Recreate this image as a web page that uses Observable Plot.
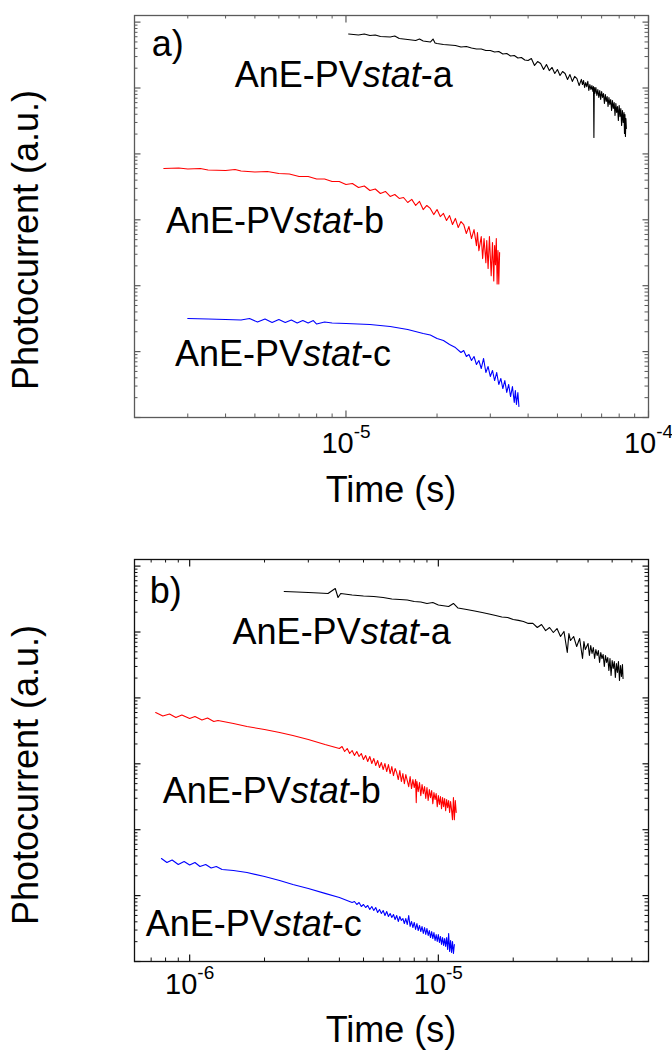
<!DOCTYPE html>
<html><head><meta charset="utf-8">
<script src="https://cdn.jsdelivr.net/npm/d3@7"></script>
<script src="https://cdn.jsdelivr.net/npm/@observablehq/plot@0.6"></script>
<style>
body{margin:0;background:#fff;}
#page{position:relative;width:672px;height:1053px;overflow:hidden;font-family:"Liberation Sans",Arial,sans-serif;background:#fff;}
.panel{position:absolute;left:0;}
.title{position:absolute;font-size:36px;line-height:36px;white-space:nowrap;text-align:center;width:400px;height:36px;color:#000;}
</style></head><body><div id="page"></div>
<script>
// ---- Panel a data: [time (s), photocurrent (a.u.)] ----
const aBlack = [[10.2e-6,6.6e5],[11e-6,6.37e5],[11.5e-6,6.6e5],[12e-6,6.27e5],[12.5e-6,6.37e5],[13e-6,6.05e5],[14e-6,5.95e5],[14.5e-6,6.16e5],[15e-6,5.64e5],[16e-6,5.45e5],[17e-6,5.26e5],[17.5e-6,5.54e5],[18e-6,5.17e5],[19e-6,4.99e5],[19.4e-6,5.54e5],[19.7e-6,4.82e5],[20e-6,4.74e5],[21e-6,4.57e5],[22e-6,4.49e5],[23e-6,4.42e5],[24e-6,4.19e5],[25e-6,4.27e5],[26e-6,4.05e5],[27e-6,3.91e5],[28e-6,3.91e5],[29e-6,3.71e5],[30e-6,3.71e5],[31e-6,3.52e5],[32e-6,3.58e5],[33e-6,3.28e5],[34e-6,3.34e5],[35e-6,3.06e5],[36e-6,3.11e5],[37e-6,2.85e5],[38e-6,2.90e5],[39e-6,2.66e5],
  [40e-6,2.62e5],[41e-6,2.80e5],[42e-6,2.20e5],[43e-6,2.52e5],[44e-6,2.36e5],[45e-6,1.91e5],[46e-6,2.27e5],[47e-6,1.84e5],[48e-6,2.05e5],[49e-6,1.66e5],[50e-6,1.91e5],[51e-6,1.55e5],[52e-6,1.78e5],[53e-6,1.66e5],[54e-6,1.35e5],[55e-6,1.60e5],[56e-6,1.26e5],[57e-6,1.50e5],[58e-6,1.39e5],[59e-6,1.09e5],[60e-6,1.35e5],[60.5e-6,1.13e5],[61e-6,1.30e5],[61.5e-6,1.02e5],[62e-6,1.21e5],[62.5e-6,1.05e5],[63e-6,1.26e5],[63.5e-6,9.17e4],[64e-6,1.13e5],[64.5e-6,9.49e4],[65e-6,1.09e5],[65.5e-6,8.85e4],[65.8e-6,1.05e5],[66e-6,1.77e4],[66.2e-6,1.02e5],[66.5e-6,8.25e4],[67e-6,1.02e5],[67.5e-6,7.70e4],[68e-6,9.49e4],[68.5e-6,7.18e4],[69e-6,9.17e4],[69.5e-6,6.69e4],[70e-6,8.85e4],[70.5e-6,7.18e4],[71e-6,8.25e4],[71.5e-6,5.82e4],[72e-6,7.97e4],[72.5e-6,6.24e4],[73e-6,7.43e4],[73.5e-6,5.24e4],[74e-6,7.18e4],[74.5e-6,5.62e4],[75e-6,6.69e4],[75.5e-6,4.56e4],[76e-6,6.46e4],[76.5e-6,4.89e4],[77e-6,6.02e4],[77.5e-6,3.83e4],[78e-6,5.82e4],[78.5e-6,4.25e4],[79e-6,5.24e4],[79.5e-6,3.21e4],[80e-6,5.42e4],[80.5e-6,3.70e4],[81e-6,4.89e4],[81.5e-6,2.70e4],[82e-6,4.56e4],[82.5e-6,3.00e4],[83e-6,4.25e4],[83.3e-6,2.04e4],[83.6e-6,3.96e4],[83.9e-6,1.84e4],[84.2e-6,3.45e4],[84.5e-6,2.43e4]];
const aRed = [[2.5e-6,6.01e3],[2.8e-6,6.11e3],[3.0e-6,5.90e3],[3.3e-6,6.01e3],[3.5e-6,5.70e3],[4.0e-6,5.60e3],[4.3e-6,5.80e3],[4.5e-6,5.50e3],[5.0e-6,5.31e3],[5.5e-6,5.41e3],[6.0e-6,5.04e3],[6.5e-6,4.96e3],[7.0e-6,4.54e3],[7.5e-6,4.54e3],[8.0e-6,4.16e3],[8.5e-6,4.16e3],[9.0e-6,3.81e3],[9.5e-6,3.81e3],[10e-6,3.43e3],[10.5e-6,3.56e3],[11e-6,3.09e3],[11.5e-6,3.26e3],[12e-6,2.78e3],[12.5e-6,2.93e3],[13e-6,2.51e3],[13.5e-6,2.69e3],[14e-6,2.26e3],[14.5e-6,2.42e3],
  [15e-6,2.11e3],[15.5e-6,2.18e3],[16e-6,1.83e3],[16.5e-6,2.04e3],[17e-6,1.65e3],[17.5e-6,1.90e3],[18e-6,1.43e3],[18.5e-6,1.65e3],[19e-6,1.49e3],[19.5e-6,1.20e3],[20e-6,1.43e3],[20.5e-6,1.12e3],[21e-6,1.25e3],[21.5e-6,975],[22e-6,1.16e3],[22.5e-6,848],[23e-6,1.05e3],[23.5e-6,763],[24e-6,942],[24.5e-6,848],[25e-6,619],[25.5e-6,790],[26e-6,519],[26.5e-6,712],[27e-6,406],[27.2e-6,641],[27.5e-6,341],[28e-6,557],[28.3e-6,258],[28.6e-6,519],[29e-6,224],[29.2e-6,484],[29.5e-6,182],[29.8e-6,557],[30e-6,277],[30.2e-6,142],[30.5e-6,451],[30.8e-6,118],[31e-6,406],[31.2e-6,209],[31.4e-6,519],[31.6e-6,106],[31.8e-6,341],[32e-6,106],[32.2e-6,318]];
const aBlue = [[3.0e-6,31.8],[3.5e-6,31.2],[4.0e-6,30.7],[4.5e-6,30.2],[4.8e-6,31.8],[5.1e-6,28.1],[5.4e-6,31.2],[5.7e-6,27.6],[6.0e-6,30.7],[6.3e-6,27.6],[6.6e-6,30.2],[6.9e-6,27.2],[7.2e-6,29.6],[7.5e-6,27.2],[7.8e-6,29.6],[8.0e-6,26.2],[8.5e-6,28.1],[9.0e-6,27.2],[10e-6,26.7],[12e-6,25.8],[14e-6,24.0],[16e-6,21.6],[18e-6,18.8],[19e-6,17.9],[20e-6,15.8],[21e-6,14.7],[22e-6,12.8],[23e-6,11.5],
  [24e-6,9.70],[24.5e-6,10.4],[25e-6,8.43],[25.5e-6,9.04],[26e-6,7.33],[26.5e-6,8.43],[27e-6,6.37],[27.5e-6,7.33],[28e-6,5.54],[28.5e-6,7.86],[29e-6,4.82],[29.5e-6,5.94],[30e-6,4.19],[30.5e-6,5.17],[31e-6,3.64],[31.5e-6,4.82],[32e-6,3.17],[32.5e-6,3.91],[33e-6,2.75],[33.5e-6,3.64],[34e-6,2.40],[34.5e-6,3.17],[35e-6,2.08],[35.5e-6,2.95],[36e-6,1.69],[36.3e-6,2.57],[36.6e-6,1.58],[37e-6,2.40],[37.3e-6,1.47]];

// ---- Panel b data ----
const bBlack = [[2.4e-6,4.12e5],[2.7e-6,4.05e5],[3.0e-6,3.98e5],[3.3e-6,3.91e5],[3.6e-6,3.84e5],[3.85e-6,4.57e5],[3.95e-6,3.34e5],[4.05e-6,3.84e5],[4.5e-6,3.64e5],[5e-6,3.52e5],[5.5e-6,3.46e5],[6e-6,3.34e5],[6.5e-6,3.17e5],[7e-6,3.11e5],[7.5e-6,3.06e5],[8e-6,2.90e5],[8.5e-6,2.85e5],[9e-6,2.71e5],[9.5e-6,2.80e5],[10e-6,2.57e5],[11e-6,2.44e5],[11.5e-6,2.71e5],[12e-6,2.31e5],[13e-6,2.20e5],[14e-6,2.08e5],[15e-6,1.98e5],[16e-6,1.88e5],[17e-6,1.78e5],[18e-6,1.69e5],[19e-6,1.66e5],[20e-6,1.55e5],[21e-6,1.50e5],[22e-6,1.44e5],[23e-6,1.35e5],
  [24e-6,1.35e5],[25e-6,1.17e5],[26e-6,1.30e5],[27e-6,1.05e5],[28e-6,1.17e5],[29e-6,9.83e4],[30e-6,1.13e5],[31e-6,8.55e4],[32e-6,1.02e5],[33e-6,4.89e4],[33.5e-6,9.49e4],[34e-6,7.43e4],[35e-6,8.55e4],[36e-6,6.02e4],[37e-6,7.97e4],[38e-6,3.96e4],[38.5e-6,7.18e4],[39e-6,5.42e4],[40e-6,6.69e4],[40.5e-6,4.40e4],[41e-6,6.24e4],[41.5e-6,4.72e4],[42e-6,5.82e4],[42.5e-6,3.96e4],[43e-6,5.42e4],[43.5e-6,4.40e4],[44e-6,5.24e4],[44.5e-6,3.45e4],[45e-6,4.89e4],[45.5e-6,3.96e4],[46e-6,4.56e4],[46.5e-6,3.00e4],[47e-6,4.40e4],[47.5e-6,3.45e4],[48e-6,4.10e4],[48.5e-6,2.61e4],[49e-6,3.96e4],[49.5e-6,2.19e4],[50e-6,3.70e4],[50.5e-6,2.80e4],[51e-6,3.57e4],[51.5e-6,2.04e4],[52e-6,3.33e4],[52.5e-6,2.43e4],[53e-6,3.57e4],[53.5e-6,1.84e4],[54e-6,3.10e4],[54.5e-6,2.11e4],[55e-6,3.21e4],[55.3e-6,1.97e4]];
const bRed = [[0.73e-6,6.01e3],[0.78e-6,5.31e3],[0.83e-6,5.70e3],[0.88e-6,5.04e3],[0.93e-6,5.50e3],[1.0e-6,4.87e3],[1.05e-6,5.22e3],[1.12e-6,4.62e3],[1.18e-6,4.96e3],[1.25e-6,4.39e3],[1.3e-6,4.54e3],[1.5e-6,4.09e3],[1.7e-6,3.68e3],[2.0e-6,3.32e3],[2.3e-6,2.99e3],[2.6e-6,2.69e3],[3.0e-6,2.34e3],[3.5e-6,1.96e3],
  [4.0e-6,1708],[4.1e-6,1832],[4.2e-6,1538],[4.3e-6,1708],[4.4e-6,1434],[4.5e-6,1592],[4.6e-6,1337],[4.7e-6,1538],[4.8e-6,1291],[4.9e-6,1434],[5.0e-6,1162],[5.1e-6,1337],[5.2e-6,1083],[5.3e-6,1291],[5.4e-6,1010],[5.5e-6,1203],[5.6e-6,942],[5.7e-6,1122],[5.8e-6,878],[5.9e-6,1046],[6.0e-6,819],[6.1e-6,1010],[6.2e-6,763],[6.3e-6,975],[6.4e-6,712],[6.5e-6,909],[6.6e-6,663],[6.7e-6,848],[6.8e-6,737],[6.9e-6,577],[7.0e-6,790],[7.1e-6,538],[7.2e-6,712],[7.3e-6,501],[7.4e-6,687],[7.5e-6,557],[7.6e-6,451],[7.7e-6,641],[7.8e-6,421],[7.9e-6,577],[8.0e-6,436],[8.1e-6,577],[8.15e-6,258],[8.2e-6,538],[8.3e-6,379],[8.4e-6,519],[8.5e-6,329],[8.6e-6,484],[8.7e-6,353],[8.8e-6,451],[8.9e-6,297],[9.0e-6,436],[9.1e-6,277],[9.2e-6,406],[9.3e-6,307],[9.4e-6,392],[9.5e-6,249],[9.6e-6,366],[9.7e-6,287],[9.8e-6,353],[9.9e-6,224],[10.0e-6,330],[10.1e-6,241],[10.2e-6,318],[10.3e-6,209],[10.4e-6,307],[10.5e-6,224],[10.6e-6,297],[10.7e-6,195],[10.8e-6,287],[10.9e-6,216],[11.0e-6,277],[11.1e-6,182],[11.2e-6,267],[11.3e-6,202],[11.4e-6,142],[11.5e-6,307],[11.6e-6,142],[11.7e-6,277],[11.8e-6,182]];
const bBlue = [[0.77e-6,36.6],[0.81e-6,31.8],[0.85e-6,34.7],[0.9e-6,29.6],[0.95e-6,32.9],[1.0e-6,29.1],[1.05e-6,31.8],[1.1e-6,27.6],[1.16e-6,29.6],[1.22e-6,26.2],[1.28e-6,27.6],[1.35e-6,24.9],[1.5e-6,24.0],[1.7e-6,22.4],[2.0e-6,19.5],[2.3e-6,17.0],[2.6e-6,14.7],[3.0e-6,12.8],[3.5e-6,10.8],[4.0e-6,9.36],
  [4.5e-6,7.86],[4.6e-6,8.14],[4.7e-6,7.33],[4.8e-6,7.86],[4.9e-6,6.83],[5.0e-6,7.33],[5.1e-6,6.60],[5.2e-6,7.08],[5.3e-6,6.15],[5.4e-6,6.83],[5.5e-6,5.94],[5.6e-6,6.60],[5.7e-6,5.54],[5.8e-6,6.15],[5.9e-6,5.35],[6.0e-6,5.94],[6.1e-6,4.99],[6.2e-6,5.74],[6.3e-6,4.82],[6.4e-6,5.35],[6.5e-6,4.65],[6.6e-6,5.17],[6.7e-6,4.34],[6.8e-6,4.99],[6.9e-6,4.05],[7.0e-6,4.82],[7.1e-6,4.19],[7.2e-6,4.49],[7.3e-6,3.77],[7.4e-6,4.49],[7.5e-6,3.64],[7.6e-6,4.99],[7.7e-6,3.40],[7.8e-6,4.05],[7.9e-6,3.28],[8.0e-6,3.91],[8.1e-6,3.06],[8.2e-6,3.77],[8.3e-6,2.95],[8.4e-6,3.52],[8.5e-6,2.85],[8.6e-6,3.40],[8.7e-6,2.66],[8.8e-6,3.28],[8.9e-6,2.57],[9.0e-6,3.17],[9.1e-6,2.48],[9.2e-6,2.95],[9.3e-6,2.31],[9.4e-6,2.85],[9.5e-6,2.23],[9.6e-6,2.75],[9.7e-6,2.08],[9.8e-6,2.57],[9.9e-6,2.01],[10.0e-6,2.57],[10.1e-6,1.94],[10.2e-6,2.40],[10.3e-6,1.81],[10.4e-6,2.31],[10.5e-6,1.75],[10.6e-6,2.23],[10.7e-6,1.69],[10.8e-6,2.31],[10.9e-6,1.52],[11.0e-6,2.66],[11.1e-6,1.42],[11.2e-6,2.08],[11.3e-6,1.37],[11.4e-6,2.01],[11.5e-6,1.32],[11.6e-6,1.81]];

// ---- Text labels (anchored in data coordinates) ----
const labelsA = [{t:2.28e-6,v:3.11e5,name:"a)"},{t:4.29e-6,v:1.02e5,name:"AnE-PVstat-a"},{t:2.54e-6,v:620,name:"AnE-PVstat-b"},{t:2.72e-6,v:6.15,name:"AnE-PVstat-c"}];
const labelsB = [{t:0.691e-6,v:2.71e5,name:"b)"},{t:1.488e-6,v:6.69e4,name:"AnE-PVstat-a"},{t:0.779e-6,v:250,name:"AnE-PVstat-b"},{t:0.666e-6,v:2.40,name:"AnE-PVstat-c"}];

// ---- Axes ----
const xDomainA = [2e-6, 1e-4];
const xDomainB = [6e-7, 7e-5];
const yDomain = [1, 1.26e6];
const xMajorA = [1e-5, 1e-4];
const xMajorB = [1e-6, 1e-5];
const yMajor = [1, 10, 100, 1e3, 1e4, 1e5, 1e6];
const xLabel = "Time (s)";
const yLabel = "Photocurrent (a.u.)";
const colors = {black:"#000000", red:"#ff0000", blue:"#0000ff"};

function minorTicks(domain) {
  const out = [];
  for (let e = -8; e <= 7; e++) for (let m = 2; m <= 9; m++) {
    const v = m * Math.pow(10, e);
    if (v > domain[0] * 1.001 && v < domain[1] * 0.999) out.push({v});
  }
  return out;
}

const NS = "http://www.w3.org/2000/svg";
function panel({series, labels, xDomain, xMajor, marginTop, height, marginBottom, tickPadding, axisColor}) {
  const plotW = 672 - 134 - 24, plotH = height - marginTop - marginBottom;
  const minorLen = 3.5;
  const marks = [];
  for (const s of series) marks.push(Plot.line(s.data, {x: d => d[0], y: d => d[1], stroke: s.color, strokeWidth: 1.1}));
  const xMinor = minorTicks(xDomain), yMinor = minorTicks(yDomain);
  // minor ticks (inward) on all four sides
  marks.push(Plot.tickX(xMinor, {x: "v", insetTop: plotH - minorLen, stroke: axisColor, strokeWidth: 1}));
  marks.push(Plot.tickX(xMinor, {x: "v", insetBottom: plotH - minorLen, stroke: axisColor, strokeWidth: 1}));
  marks.push(Plot.tickY(yMinor, {y: "v", insetRight: plotW - minorLen, stroke: axisColor, strokeWidth: 1}));
  marks.push(Plot.tickY(yMinor, {y: "v", insetLeft: plotW - minorLen, stroke: axisColor, strokeWidth: 1}));
  // major ticks (inward)
  for (const anchor of ["bottom", "top"]) {
    marks.push(Plot.axisX(xMajor, {anchor, tickSize: -6.5, fill: "none", stroke: axisColor, strokeWidth: 1.2, label: null}));
  }
  for (const anchor of ["left", "right"]) {
    marks.push(Plot.axisY(yMajor, {anchor, tickSize: -6.5, fill: "none", stroke: axisColor, strokeWidth: 1.2, label: null}));
  }
  marks.push(Plot.axisX(xMajor, {anchor: "bottom", tickSize: 0, tickPadding, fontSize: 29, fill: "#000",
    tickFormat: d => "10^" + Math.round(Math.log10(d)), label: null}));
  marks.push(Plot.frame({stroke: axisColor, strokeWidth: 1.3}));
  marks.push(Plot.text(labels, {x: "t", y: "v", text: "name", textAnchor: "start", lineAnchor: "bottom", fontSize: 36, fill: "#000"}));
  const svg = Plot.plot({
    width: 672, height, marginLeft: 134, marginRight: 24, marginTop, marginBottom,
    x: {type: "log", domain: xDomain},
    y: {type: "log", domain: yDomain},
    style: {fontFamily: "'Liberation Sans', Arial, sans-serif", background: "#fff", overflow: "visible"},
    marks
  });
  svg.querySelectorAll('g[aria-label="x-axis tick label"] text').forEach(el => {
    const m = el.textContent.match(/^10\^(.+)$/);
    if (!m) return;
    el.textContent = "10";
    const ts = document.createElementNS(NS, "tspan");
    ts.setAttribute("font-size", "19");
    ts.setAttribute("dy", "-15");
    ts.textContent = m[1];
    el.appendChild(ts);
  });
  svg.querySelectorAll('g[aria-label="text"] text').forEach(el => {
    const s = el.textContent, i = s.indexOf("stat");
    if (i < 0) return;
    el.textContent = "";
    const add = (str, italic) => {
      const ts = document.createElementNS(NS, "tspan");
      if (italic) ts.setAttribute("font-style", "italic");
      ts.textContent = str;
      el.appendChild(ts);
    };
    add(s.slice(0, i)); add("stat", true); add(s.slice(i + 4));
  });
  return svg;
}

const page = document.getElementById("page");
function place(el, top) { const d = document.createElement("div"); d.className = "panel"; d.style.top = top + "px"; d.appendChild(el); page.appendChild(d); }

place(panel({
  series: [{data: aBlack, color: colors.black}, {data: aRed, color: colors.red}, {data: aBlue, color: colors.blue}],
  labels: labelsA, xDomain: xDomainA, xMajor: xMajorA,
  marginTop: 15, height: 530, marginBottom: 113, tickPadding: 14.5, axisColor: "#5a5a5a"
}), 0);
place(panel({
  series: [{data: bBlack, color: colors.black}, {data: bRed, color: colors.red}, {data: bBlue, color: colors.blue}],
  labels: labelsB, xDomain: xDomainB, xMajor: xMajorB,
  marginTop: 29, height: 523, marginBottom: 92, tickPadding: 11.5, axisColor: "#111"
}), 530);

function title(text, left, top, rotate) {
  const d = document.createElement("div");
  d.className = "title";
  d.textContent = text;
  d.style.left = left + "px"; d.style.top = top + "px";
  if (rotate) d.style.transform = "rotate(-90deg)";
  page.appendChild(d);
}
title(xLabel, 191, 471.5, false);
title(xLabel, 191, 1011.5, false);
title(yLabel, 26 - 200, 240 - 18, true);
title(yLabel, 26 - 200, 775 - 18, true);
</script></body></html>
